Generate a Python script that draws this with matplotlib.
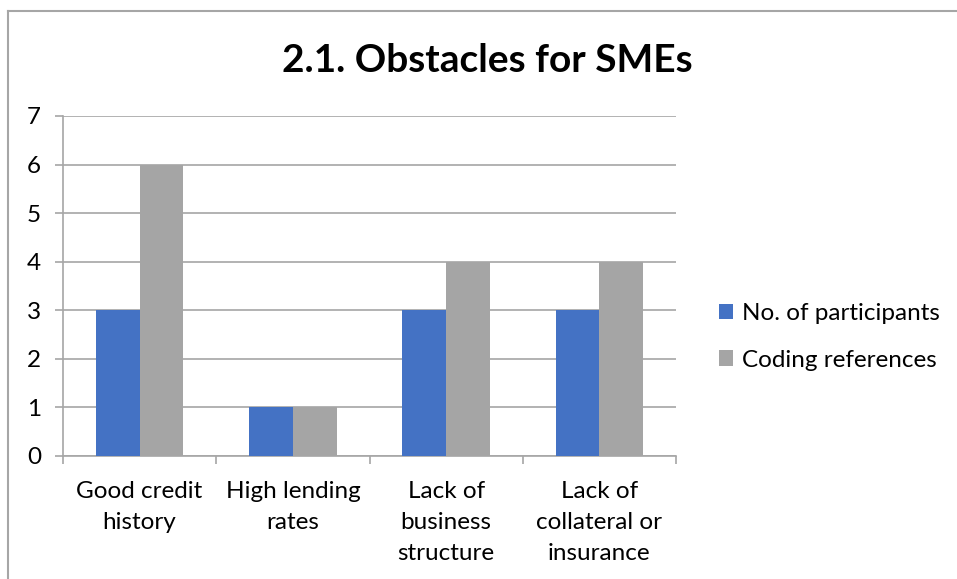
import numpy as np
import matplotlib.pyplot as plt
from matplotlib.lines import Line2D

# data
categories = ["Good credit\nhistory", "High lending\nrates", "Lack of\nbusiness\nstructure", "Lack of\ncollateral or\ninsurance"]
participants = [3, 1, 3, 3]
coding_refs = [6, 1, 4, 4]
series_names = ["No. of participants", "Coding references"]

BLUE = "#4472C4"
GRAY = "#A5A5A5"
GRID = "#A6A6A6"

plt.rcParams["font.family"] = ["Lato", "DejaVu Sans"]

fig = plt.figure(figsize=(9.57, 5.79), dpi=100)
ax = fig.add_axes([63 / 957, 123 / 579, 613 / 957, 340 / 579])

x = np.arange(len(categories))
w = 1 / 3.5  # gap width 150%
ax.bar(x - w / 2, participants, width=w, color=BLUE, label=series_names[0], zorder=3)
ax.bar(x + w / 2, coding_refs, width=w, color=GRAY, label=series_names[1], zorder=3)

ax.set_xlim(-0.5, len(categories) - 0.5)
ax.set_ylim(0, 7)
ax.set_yticks(range(0, 8))
ax.yaxis.grid(True, color=GRID, linewidth=1.2, zorder=0)
ax.set_xticks(np.arange(-0.5, len(categories), 1.0))
ax.set_xticklabels([])
ax.set_xticks(x, minor=True)
ax.set_xticklabels(categories, minor=True, fontsize=17.5, linespacing=1.6)
ax.tick_params(axis="x", which="major", length=5.8, color=GRID, width=1.2)
ax.tick_params(axis="x", which="minor", length=0, pad=18)
ax.tick_params(axis="y", length=5.8, color=GRID, width=1.2, labelsize=17.5, pad=10)
for side in ["top", "right"]:
    ax.spines[side].set_visible(False)
for side in ["left", "bottom"]:
    ax.spines[side].set_color(GRID)
    ax.spines[side].set_linewidth(1.2)

fig.text(487 / 957, 1 - 60 / 579, "2.1. Obstacles for SMEs", ha="center", va="center",
         fontsize=28, fontweight="bold")

ax.legend(loc="center left", bbox_to_anchor=(697 / 957, 1 - 337 / 579), bbox_transform=fig.transFigure,
          frameon=False, fontsize=17.5, handlelength=0.6, handleheight=0.6, handletextpad=0.35,
          labelspacing=1.05)

# outer chart border (partially cropped in the reference)
fig.add_artist(Line2D([8 / 957, 8 / 957], [0, 1 - 11 / 579], transform=fig.transFigure, color=GRID, lw=1.5))
fig.add_artist(Line2D([8 / 957, 1], [1 - 11 / 579, 1 - 11 / 579], transform=fig.transFigure, color=GRID, lw=1.5))

fig.savefig("out.png", dpi=100)
